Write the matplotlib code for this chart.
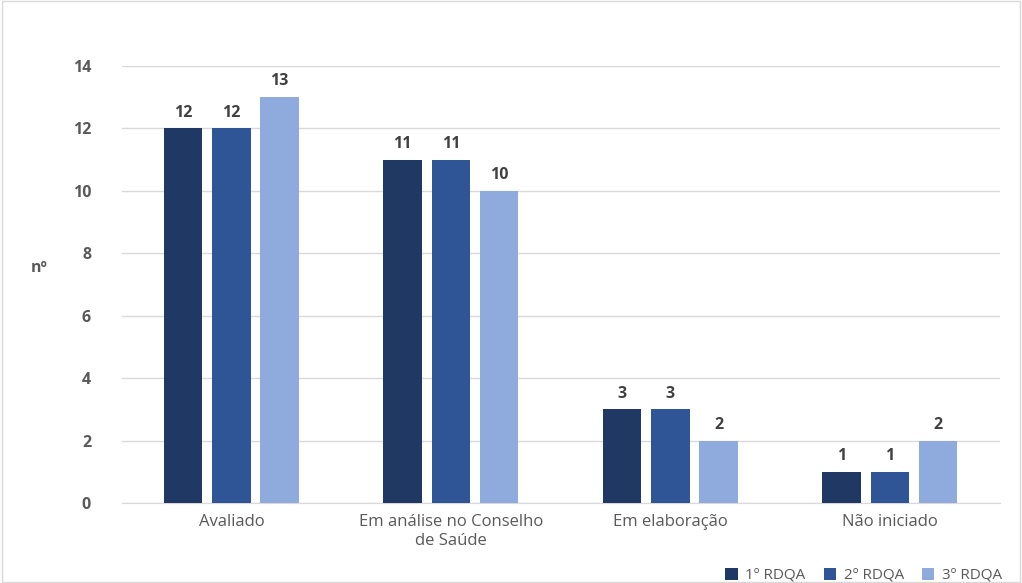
import matplotlib
matplotlib.use("Agg")
import matplotlib.pyplot as plt
import numpy as np

categories = ["Avaliado", "Em análise no Conselho\nde Saúde", "Em elaboração", "Não iniciado"]
series_names = ["1º RDQA", "2º RDQA", "3º RDQA"]
rdqa1 = [12, 11, 3, 1]
rdqa2 = [12, 11, 3, 1]
rdqa3 = [13, 10, 2, 2]
colors = ["#1F3864", "#2F5597", "#8FAADC"]

plt.rcParams["font.family"] = ["Open Sans", "DejaVu Sans"]
grey = "#595959"

fig = plt.figure(figsize=(10.22, 5.83), dpi=100)
ax = fig.add_axes([0.119, 0.137, 0.859, 0.75])
x = np.arange(len(categories))
w = 0.175
step = 0.22
for i, (vals, name) in enumerate(zip([rdqa1, rdqa2, rdqa3], series_names)):
    pos = x + (i - 1) * step
    ax.bar(pos, vals, width=w, color=colors[i], label=name, zorder=3)
    for p, v in zip(pos, vals):
        ax.text(p, v + 0.25, str(v), ha="center", va="bottom", fontsize=11.5,
                fontweight="bold", color="#404040")

ax.set_ylim(0, 14)
ax.set_xlim(-0.5, 3.5)
ax.set_yticks(range(0, 15, 2))
ax.yaxis.grid(True, color="#D9D9D9", linewidth=1, zorder=0)
ax.set_xticks(x)
ax.set_xticklabels(categories, fontsize=12, color=grey)
for lab in ax.get_yticklabels():
    lab.set_fontweight("bold")
ax.tick_params(axis="y", labelsize=11.5, colors=grey, length=0, pad=22)
ax.tick_params(axis="x", length=0, pad=8)
for s in ["top", "right", "left"]:
    ax.spines[s].set_visible(False)
ax.spines["bottom"].set_color("#D9D9D9")
fig.text(0.03, 0.54, "nº", fontsize=11.5, fontweight="bold", color=grey, ha="left", va="center")

ax.legend(loc="upper right", bbox_to_anchor=(1.01, -0.135), ncol=3, frameon=False,
          fontsize=11, handlelength=0.8, handleheight=0.8, columnspacing=1.2,
          handletextpad=0.5, labelcolor=grey, borderaxespad=0)

fig.patches.append(plt.Rectangle((0.002, 0.002), 0.996, 0.996, transform=fig.transFigure,
                                 fill=False, edgecolor="#D9D9D9", linewidth=1))
fig.savefig("out.png", dpi=100)
